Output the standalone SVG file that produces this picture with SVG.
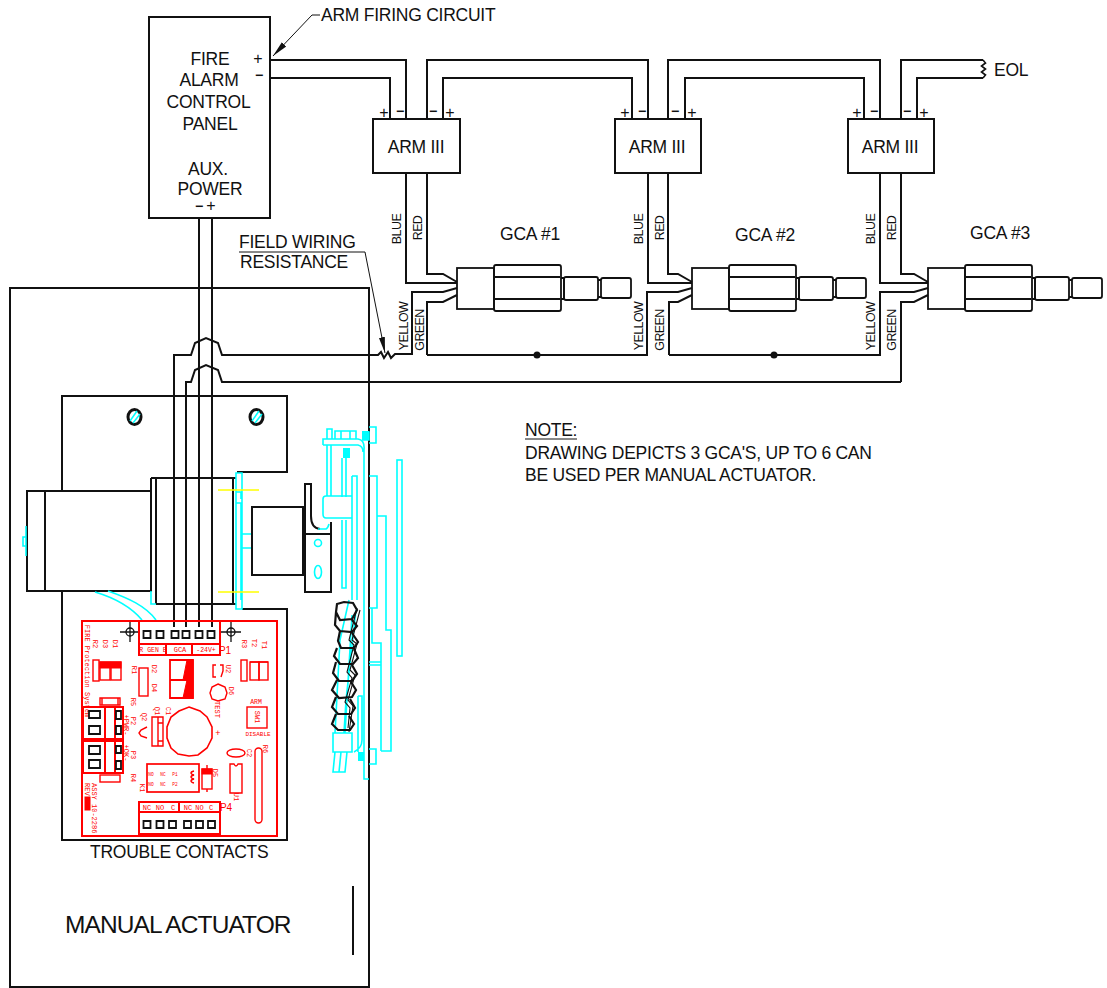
<svg xmlns="http://www.w3.org/2000/svg" width="1107" height="988" viewBox="0 0 1107 988">
<style>
text{font-family:"Liberation Sans",Arial,sans-serif;fill:#111}
.w{fill:none;stroke:#111;stroke-width:2;stroke-linejoin:miter}
.n{fill:none;stroke:#111;stroke-width:1.8}
.t{font-size:17.5px;letter-spacing:-.25px}
.m{font-size:17.5px;text-anchor:middle;letter-spacing:-.25px}
.p{font-size:16px;text-anchor:middle}
.q{font-size:14px;text-anchor:middle;font-weight:bold}
.v{font-size:12.500px;text-anchor:middle;letter-spacing:-.6px}
.cy{fill:none;stroke:#0ff;stroke-width:1.6}
.ye{fill:none;stroke:#ff0;stroke-width:1.6}
.r{fill:none;stroke:#f00;stroke-width:1.4}
.rb{fill:none;stroke:#f00;stroke-width:2}
.rf{fill:#f00;stroke:#f00;stroke-width:1}
.k{fill:#fff;stroke:#111;stroke-width:1.8}
.rt{font-family:"Liberation Mono",monospace;font-size:7px;fill:#f00;text-anchor:middle}
.rs{font-family:"Liberation Sans",sans-serif;font-size:7px;fill:#f00;text-anchor:middle}
</style>
<defs>
<marker id="ah" viewBox="0 0 16 8" refX="16" refY="4" markerWidth="16" markerHeight="8" markerUnits="userSpaceOnUse" orient="auto"><path d="M0 1L16 4L0 7Z" fill="#111"/></marker>
<g id="gca">
<rect class="n" x="457" y="268" width="37" height="41"/>
<path class="n" d="M494 268V267Q494 265 496 265H559Q561 265 561 267V309Q561 311 559 311H496Q494 311 494 309V268"/>
<path d="M495 277H560M495 299H560" fill="none" stroke="#111" stroke-width="2"/>
<path class="n" d="M561 278H564V299H561"/>
<path class="n" d="M564 279Q564 277 566 277H596Q598 277 598 279V298Q598 300 596 300H566Q564 300 564 298Z"/>
<path class="n" d="M598 280H601M598 297H601"/>
<path class="n" d="M601 280Q601 278 603 278H629Q631 278 631 280V296Q631 298 629 298H603Q601 298 601 296Z"/>
</g>
</defs>
<rect width="1107" height="988" fill="#fff"/>

<g id="connectors">
<path class="w" d="M270 60H406V119M270 78H390V119"/>
<path class="w" d="M427 119V60H648V119M443 119V78H632V119"/>
<path class="w" d="M668 119V60H880V119M685 119V78H864V119"/>
<path class="w" d="M983 60H901V119M983 78H917V119"/>
<path d="M983 60l2.500 3l-4 3l4 3l-4 3l4 3l-2.500 3" fill="none" stroke="#111" stroke-width="1.600"/>
<path class="w" d="M406 173V283H457M427 173V274H443L457 282M412 355V292H443L457 288M427 355V302H443L457 295"/>
<path class="w" d="M427 355H647V292H678L692 288M669 355V302H678L692 295"/>
<path class="w" d="M648 173V283H692M668 173V274H678L692 282"/>
<path class="w" d="M880 173V283H928M901 173V274H914L928 282"/>
<path class="w" d="M669 355H880V292H914L928 288M901 382V302H914L928 295"/>
<circle cx="537" cy="355" r="3.500" fill="#111"/>
<circle cx="774" cy="355" r="3.500" fill="#111"/>
<path class="w" d="M174 627V355H191L195 343L206 338L218 343L222 355H378L381 352L384 358L388 352L391 358L395 354H412"/>
<path class="w" d="M186 627V382H191L195 370L206 365L218 370L222 382H901"/>
<path class="w" d="M199 218V627M212 218V627"/>
<path d="M320 15H312L273 56" fill="none" stroke="#111" stroke-width="1" marker-end="url(#ah)"/>
<path d="M239 252H365L385 353" fill="none" stroke="#111" stroke-width="1" marker-end="url(#ah)"/>
<path d="M525 439H577" stroke="#111" stroke-width="1"/>
</g>

<g id="fire-panel">
<rect class="w" x="149" y="17" width="121" height="201"/>
<text class="m" x="210" y="65">FIRE</text>
<text class="m" x="209" y="86">ALARM</text>
<text class="m" x="208.500" y="108">CONTROL</text>
<text class="m" x="210" y="130">PANEL</text>
<text class="m" x="208" y="175">AUX.</text>
<text class="m" x="210" y="195">POWER</text>
<text class="p" x="258" y="64">+</text>
<text class="q" x="259" y="80">−</text>
<text class="q" x="199" y="211">−</text>
<text class="p" x="211" y="211">+</text>
</g>

<g id="arm-1">
<rect class="w" x="373" y="119" width="87" height="54"/>
<text class="m" x="416" y="153">ARM III</text>
<text class="p" x="384" y="118">+</text><text class="q" x="400" y="116">−</text><text class="q" x="433" y="116">−</text><text class="p" x="450" y="118">+</text>
</g>
<g id="arm-2">
<rect class="w" x="615" y="119" width="86" height="54"/>
<text class="m" x="657" y="153">ARM III</text>
<text class="p" x="625" y="118">+</text><text class="q" x="642" y="116">−</text><text class="q" x="675" y="116">−</text><text class="p" x="692" y="118">+</text>
</g>
<g id="arm-3">
<rect class="w" x="848" y="119" width="86" height="54"/>
<text class="m" x="890" y="153">ARM III</text>
<text class="p" x="857" y="118">+</text><text class="q" x="874" y="116">−</text><text class="q" x="907" y="116">−</text><text class="p" x="924" y="118">+</text>
</g>

<g id="gca-1"><use href="#gca"/>
<text class="m" x="530" y="240">GCA #1</text>
<text class="v" transform="translate(401 229) rotate(-90)">BLUE</text>
<text class="v" transform="translate(422 228) rotate(-90)">RED</text>
<text class="v" transform="translate(408 326) rotate(-90)">YELLOW</text>
<text class="v" transform="translate(424 330) rotate(-90)">GREEN</text>
</g>
<g id="gca-2"><use href="#gca" x="235"/>
<text class="m" x="765" y="241">GCA #2</text>
<text class="v" transform="translate(643 229) rotate(-90)">BLUE</text>
<text class="v" transform="translate(664 228) rotate(-90)">RED</text>
<text class="v" transform="translate(643 326) rotate(-90)">YELLOW</text>
<text class="v" transform="translate(664 330) rotate(-90)">GREEN</text>
</g>
<g id="gca-3"><use href="#gca" x="471"/>
<text class="m" x="1000" y="239">GCA #3</text>
<text class="v" transform="translate(875 229) rotate(-90)">BLUE</text>
<text class="v" transform="translate(896 228) rotate(-90)">RED</text>
<text class="v" transform="translate(875 326) rotate(-90)">YELLOW</text>
<text class="v" transform="translate(896 330) rotate(-90)">GREEN</text>
</g>

<g id="labels">
<text class="t" x="321" y="21">ARM FIRING CIRCUIT</text>
<text class="t" x="994" y="76">EOL</text>
<text class="t" x="239" y="248">FIELD WIRING</text>
<text class="t" x="240" y="268">RESISTANCE</text>
<text class="t" x="525" y="436">NOTE:</text>
<text class="t" x="525" y="459">DRAWING DEPICTS 3 GCA'S, UP TO 6 CAN</text>
<text class="t" x="525" y="481">BE USED PER MANUAL ACTUATOR.</text>
</g>

<g id="manual-actuator">
<path class="w" d="M10 288H369V987H10Z"/>
<text x="65" y="933" style="font-size:24.500px;letter-spacing:-.9px">MANUAL ACTUATOR</text>
<text class="t" x="90" y="858">TROUBLE CONTACTS</text>
<path d="M353 886V955" stroke="#111" stroke-width="2"/>
<path class="w" d="M62 491V396H287V472H237M62 591V840H287V609H242"/>
<ellipse cx="134.500" cy="417" rx="6.500" ry="7.500" fill="none" stroke="#111" stroke-width="3"/>
<path d="M130 421L137 411M133 423L140 414" stroke="#0ff" stroke-width="1.500"/>
<ellipse cx="256.500" cy="417" rx="6.500" ry="7.500" fill="none" stroke="#111" stroke-width="3"/>
<path d="M252 421L259 411M255 423L262 414" stroke="#0ff" stroke-width="1.500"/>
<path class="w" d="M27 491H151V591H27ZM45 491V591M151 478H236M156 478V604M233 478V604M156 604H236M151 478V591"/>
<path class="cy" d="M151 591V604H156M26 526V556M26 537H23V546H26"/>
<path class="cy" d="M95 592C115 598 132 608 142 620M108 591C128 598 146 606 156 620"/>
<path class="cy" d="M236 473H242V609H236ZM236 492H241V499M236 503H241V600M242 534H252M242 548H252"/>
<path class="ye" d="M218 490H259M218 592H259"/>
<rect class="w" x="252" y="507" width="51" height="68"/>
<path class="w" d="M305 534H331V592H305ZM305 534V484H311V516Q311 528 320 529M331 534V522"/>
<path class="cy" d="M318 529H326Q328 528 329 524"/>
<circle class="cy" cx="318" cy="543" r="3.500"/>
<ellipse class="cy" cx="318" cy="572" rx="3.500" ry="6.500"/>
<path class="cy" d="M327 439V429H332V439M335 439V431H356V439M341 431V439M350 431V439"/>
<path class="cy" d="M323 445V439H358Q365 440 364 450V779H369M323 445H358Q363 446 363 452"/>
<path class="cy" d="M369 427H376V443H369M362 432H369V440H362"/>
<path d="M362 431h7v9h-7zM343 448h7v10h-7z" fill="#0ff"/>
<path class="cy" d="M327 445V496M331 445V496M342 458V497M346 458V497M342 520V588H346V520"/>
<path class="cy" d="M326 496H352V518H326Q323 518 323 514V499Q323 496 326 496ZM352 476H357V600M352 476V600"/>
<path class="cy" d="M369 476H377V608H369M372 608V643H381V751M377 516H386V630H391V751H381M369 662H381M369 665H381"/>
<rect class="cy" x="397" y="460" width="5" height="196"/>
<path class="cy" d="M369 749H376V764H369M358 696V752M358 696H362V740Q362 748 354 752"/>
<path d="M358 752h6v9h-6z" fill="#0ff"/>
<path class="cy" d="M349 600L340 640L335 733M356 610L346 700L344 733M352 615L345 733M333 733H352V752H333ZM335 752L333 772H345L347 752M341 752L339 772"/>
<path d="M337 604L344 602L353 603L357 610L352 619L340 620L336 612ZM336 612L335 625L340 631L352 632L357 626L352 620M340 631L338 641L341 648L354 648L358 642L352 633M337 648L334 656L340 664L353 664L358 658L354 649M336 662L333 673L339 681L352 681L357 674L352 665M337 680L332 690L339 698L352 697L356 690L351 682M336 697L332 707L338 714L351 714L355 708L350 699M336 714L332 724L338 730L350 730L354 724L349 716" fill="none" stroke="#111" stroke-width="2.200"/>
<path d="M360 610L352 640L357 644L350 670L355 675L348 700L353 706L349 732M357 608L349 640L354 645L347 672L352 678L345 702L350 708L348 728" fill="none" stroke="#111" stroke-width="1.100"/>
</g>

<g id="circuit-board">
<rect class="rb" x="82" y="621" width="195" height="215"/>
<g fill="none" stroke="#111" stroke-width="1.300"><circle cx="130" cy="632" r="4"/><path d="M120 632H140M130 622V642"/><circle cx="231" cy="632" r="4"/><path d="M221 632H241M231 622V642"/></g>
<path class="rb" d="M139 621V655H220V621M139 644H220M166 644V655M192 644V655"/>
<path d="M143.500 631h7v7h-7zM156.500 631h7v7h-7zM171.500 631h7v7h-7zM182.500 631h7v7h-7zM195.500 631h7v7h-7zM207.500 631h7v7h-7z" class="k"/>
<text class="rt" x="153" y="652" style="font-size:6.500px">R GEN B</text><text class="rt" x="180" y="652">GCA</text><text class="rt" x="206" y="652" style="font-size:6.500px">-24V+</text>
<text class="rs" x="225" y="654" style="font-size:10px">P1</text>
<text class="rt" transform="translate(85 671) rotate(90)">FIRE Protection System</text>
<text class="rt" transform="translate(92.500 644) rotate(90)">R2</text><text class="rt" transform="translate(102.500 644) rotate(90)">D3</text><text class="rt" transform="translate(112.500 644) rotate(90)">D1</text>
<rect class="r" x="93" y="660" width="6" height="21"/>
<rect class="r" x="100" y="662" width="10" height="18"/><rect class="r" x="111" y="662" width="10" height="18"/>
<rect class="rf" x="100" y="662" width="21" height="6"/>
<rect class="r" x="139" y="668" width="9" height="28"/>
<text class="rt" transform="translate(132 670) rotate(90)">R1</text><text class="rt" transform="translate(152 669) rotate(90)">D2</text><text class="rt" transform="translate(152 688) rotate(90)">D4</text>
<path class="r" d="M170 660H193V698H170ZM170 680H193" style="stroke-width:1.800"/>
<path class="rf" d="M187 660H193V680H183ZM187 680H193V698H183Z"/>
<path class="r" d="M216 665H213V677H216M220 665H223V671L221 677"/>
<text class="rt" transform="translate(226 669) rotate(90)">U2</text><text class="rt" transform="translate(229 691) rotate(90)">D6</text>
<path class="r" d="M218 684L225 687L227 693L225 699L218 701L212 699L210 693L212 687Z"/>
<text class="rt" transform="translate(215 709.500) rotate(90)">TEST</text>
<rect class="r" x="241" y="660" width="6" height="21"/><rect class="r" x="250" y="662" width="9" height="18"/><rect class="r" x="259" y="662" width="9" height="18"/>
<path class="r" d="M250 662H268"/>
<text class="rt" transform="translate(242 644) rotate(90)">R3</text><text class="rt" transform="translate(252 643) rotate(90)">T2</text><text class="rt" transform="translate(262 645) rotate(90)">T1</text>
<text class="rt" x="256" y="704" style="font-size:6.500px">ARM</text>
<rect class="r" x="247" y="707" width="20" height="21"/>
<text class="rt" transform="translate(255 717) rotate(90)">SW1</text>
<text class="rt" x="258" y="736" style="font-size:6px">DISABLE</text>
<path class="r" d="M100 698H120V705H100ZM102 698V705M118 698V705"/>
<text class="rt" transform="translate(131 702) rotate(90)">R5</text>
<path class="rb" d="M83 707H123V739H83M83 741H123V773H83M105 707V773M115 707V773M83 707V773"/>
<path class="k" d="M89 711h11v7h-11zM89 726h11v8h-11zM89 746h11v8h-11zM89 760h11v8h-11zM116 711h5v8h-5zM116 726h5v8h-5zM116 746h5v7h-5zM116 761h5v8h-5z"/>
<text class="rt" transform="translate(124 725) rotate(90)">+PWR-</text><text class="rt" transform="translate(131 721) rotate(90)">P2</text>
<text class="rt" transform="translate(124 753) rotate(90)">+OK-</text><text class="rt" transform="translate(131 755) rotate(90)">P3</text>
<text class="rt" transform="translate(142 717) rotate(90)">Q2</text><text class="rt" transform="translate(155 711) rotate(90)">Q1</text><text class="rt" transform="translate(166 711) rotate(90)">C1</text>
<path class="r" d="M147 727L141 730L139 733L141 736L147 738"/>
<path class="r" d="M152 717H163V746H152ZM158 717V746M158 723H163M158 741H163"/>
<path class="r" d="M189 707L200 711L207 717L212 727L212 738L207 748L198 755L189 756L178 754L171 748L167 738L167 727L171 717L179 711Z" style="stroke-width:1.600"/>
<text class="rs" x="218" y="736" style="font-size:9px">+</text>
<ellipse class="r" cx="236" cy="753" rx="9" ry="4"/>
<text class="rt" transform="translate(247 753) rotate(90)">C2</text>
<text class="rt" transform="translate(263 749) rotate(90)">R6</text>
<rect class="r" x="255" y="748" width="7" height="75" rx="3.500"/>
<path class="r" d="M230 764H234Q236 768 238 764H242V793H230Z"/>
<text class="rt" transform="translate(234 797) rotate(90)">U1</text>
<rect class="r" x="100" y="775" width="20" height="7"/>
<text class="rt" transform="translate(131 778) rotate(90)">R4</text>
<rect class="r" x="147" y="764" width="52" height="28" style="stroke-width:1.700"/>
<text class="rt" transform="translate(140 788) rotate(90)">K1</text>
<g style="font-size:4.500px"><text class="rt" style="font-size:4.500px" x="151" y="776">NO</text><text class="rt" style="font-size:4.500px" x="163" y="776">NC</text><text class="rt" style="font-size:4.500px" x="175" y="776">P1</text><text class="rt" style="font-size:4.500px" x="151" y="786">NO</text><text class="rt" style="font-size:4.500px" x="163" y="786">NC</text><text class="rt" style="font-size:4.500px" x="175" y="786">P2</text></g>
<path class="r" d="M194 771C190 772 190 774 194 775C190 776 190 778 194 779C190 780 190 782 194 783"/>
<rect class="r" x="202" y="769" width="10" height="20"/><rect class="rf" x="202" y="769" width="10" height="5"/>
<path class="r" d="M207 765V769M207 789V792"/>
<text class="rt" transform="translate(213 773) rotate(90)">D5</text>
<text class="rt" transform="translate(92 783) rotate(90)" style="text-anchor:start">ASSY 10-2286</text>
<text class="rt" transform="translate(85 783) rotate(90)" style="text-anchor:start">REV</text>
<rect class="rf" x="85" y="797" width="5" height="13"/>
<path class="rb" d="M139 802H220V834H139ZM139 812H220M179 802V812"/>
<path class="k" d="M143.500 821h7v7h-7zM156.500 821h7v7h-7zM169 821h7v7h-7zM184 821h7v7h-7zM196 821h7v7h-7zM208 821h7v7h-7z"/>
<text class="rt" x="147" y="810">NC</text><text class="rt" x="160" y="810">NO</text><text class="rt" x="173" y="810">C</text><text class="rt" x="188" y="810">NC</text><text class="rt" x="199.500" y="810">NO</text><text class="rt" x="211" y="810">C</text>
<text class="rs" x="226" y="811" style="font-size:10px">P4</text>
</g>
</svg>
